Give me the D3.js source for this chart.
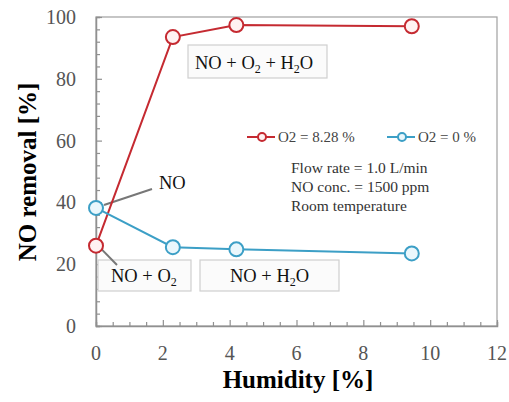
<!DOCTYPE html>
<html>
<script src='https://d3js.org/d3.v7.min.js'></script>
<head>
<style>
body {margin:0; background:#fff;}
svg text {font-family:'Liberation Serif','Times New Roman',serif;}
</style>
</head>
<body>
<svg width=509 height=402></svg>
<script>
var humidity = [0, 2.3, 4.2, 9.45]
var with_o2 = [26, 93.5, 97.4, 97.0]
var no_o2 = [38.2, 25.5, 24.8, 23.5]
var series_names = ['O2 = 8.28 %', 'O2 = 0 %']
var x_ticks = [0, 2, 4, 6, 8, 10, 12]
var y_ticks = [0, 20, 40, 60, 80, 100]
var notes = ['Flow rate = 1.0 L/min', 'NO conc. = 1500 ppm', 'Room temperature']

var red = '#c52a31'
var blue = '#3c9fc6'
var serif = "'Liberation Serif','Times New Roman',serif"

var svg = d3.select('svg')
var x = d3.scaleLinear().domain([0,12]).range([96,497])
var y = d3.scaleLinear().domain([0,100]).range([326,17])

// frame
svg.append('rect')
  .attr('x',x(0)).attr('y',y(100))
  .attr('width',x(12)-x(0)).attr('height',y(0)-y(100))
  .attr('fill','none').attr('stroke','#a0a0a0').attr('stroke-width',1.2)

// axes with inside ticks
var xAxis = svg.append('g').attr('transform','translate(0,'+y(0)+')')
  .call(d3.axisTop(x).tickValues(d3.range(0,12.01,0.5)).tickSize(4).tickFormat(''))
xAxis.selectAll('.tick line').filter(function(d){return d%2==0}).attr('y2',-6)
var yAxis = svg.append('g').attr('transform','translate('+x(0)+',0)')
  .call(d3.axisRight(y).tickValues(d3.range(0,100.01,4)).tickSize(4).tickFormat(''))
yAxis.selectAll('.tick line').filter(function(d){return d%20==0}).attr('x2',6)
svg.selectAll('.domain').attr('stroke','#909090').attr('stroke-width',1.5)
svg.selectAll('.tick line').attr('stroke','#909090').attr('stroke-width',1.2)

// tick labels
svg.selectAll('.xlab').data(x_ticks).enter().append('text')
  .attr('x',function(d){return x(d)}).attr('y',360)
  .attr('text-anchor','middle').attr('font-size',20).attr('fill','#555')
  .attr('font-family',serif)
  .text(function(d){return d})
svg.selectAll('.ylab').data(y_ticks).enter().append('text')
  .attr('x',76).attr('y',function(d){return y(d)+7})
  .attr('text-anchor','end').attr('font-size',20).attr('fill','#555')
  .attr('font-family',serif)
  .text(function(d){return d})

// axis titles
svg.append('text').attr('x',298).attr('y',388)
  .attr('text-anchor','middle').attr('font-size',25).attr('font-weight','bold')
  .attr('font-family',serif)
  .text('Humidity [%]')
svg.append('text').attr('transform','translate(36,172) rotate(-90)')
  .attr('text-anchor','middle').attr('font-size',25).attr('font-weight','bold')
  .attr('font-family',serif)
  .text('NO removal [%]')

// annotation boxes
function box(x0,y0,w,h){
  svg.append('rect').attr('x',x0).attr('y',y0).attr('width',w).attr('height',h)
    .attr('fill','#fbfbfb').attr('stroke','#cfcfcf').attr('stroke-width',1.2)
}
box(188,45,139,33)
box(98,260,93,31)
box(200,260,139,31)

function formula(tx,ty,parts){
  var t = svg.append('text').attr('x',tx).attr('y',ty).attr('font-size',18.5).attr('fill','#111')
    .attr('font-family',serif)
  parts.forEach(function(p){
    if (p[1]) t.append('tspan').attr('font-size',12).attr('dy',4).text(p[0])
    else t.append('tspan').attr('dy',p[2]||0).text(p[0])
  })
}
formula(195,69,[['NO + O'],['2',1],[' + H',0,-4],['2',1],['O',0,-4]])
formula(111,282,[['NO + O'],['2',1]])
formula(230,282,[['NO + H'],['2',1],['O',0,-4]])

// leader lines
svg.append('line').attr('x1',152).attr('y1',189).attr('x2',x(0)+8).attr('y2',y(no_o2[0])-3)
  .attr('stroke','#777').attr('stroke-width',2)
svg.append('line').attr('x1',x(0)+4).attr('y1',y(with_o2[0])+2).attr('x2',117).attr('y2',265)
  .attr('stroke','#777').attr('stroke-width',2)
svg.append('text').attr('x',159).attr('y',189).attr('font-size',18.5).attr('fill','#111')
  .attr('font-family',serif).text('NO')

// series
var series = [
  {name:series_names[0], vals:with_o2, color:red, fill:'#fff2f2'},
  {name:series_names[1], vals:no_o2, color:blue, fill:'#eaf7fc'}
]
var line = d3.line().x(function(d){return x(d[0])}).y(function(d){return y(d[1])})
series.forEach(function(s){
  var pts = humidity.map(function(h,i){return [h, s.vals[i]]})
  svg.append('path').datum(pts).attr('d',line)
    .attr('fill','none').attr('stroke',s.color).attr('stroke-width',2)
  svg.selectAll(null).data(pts).enter().append('circle')
    .attr('cx',function(d){return x(d[0])}).attr('cy',function(d){return y(d[1])})
    .attr('r',7).attr('fill',s.fill).attr('stroke',s.color).attr('stroke-width',2)
})

// legend
var legX = [247, 387]
series.forEach(function(s,i){
  var lx = legX[i]
  svg.append('line').attr('x1',lx).attr('x2',lx+28).attr('y1',137).attr('y2',137)
    .attr('stroke',s.color).attr('stroke-width',2)
  svg.append('circle').attr('cx',lx+15).attr('cy',137).attr('r',4)
    .attr('fill',s.fill).attr('stroke',s.color).attr('stroke-width',2)
  svg.append('text').attr('x',lx+31).attr('y',142).attr('font-size',15).attr('fill','#444')
    .attr('font-family',serif)
    .text(s.name)
})

// conditions
svg.selectAll('.note').data(notes).enter().append('text')
  .attr('x',291).attr('y',function(d,i){return 173+i*19})
  .attr('font-size',15.5).attr('fill','#333')
  .attr('font-family',serif)
  .text(function(d){return d})
</script>
</body>
</html>
